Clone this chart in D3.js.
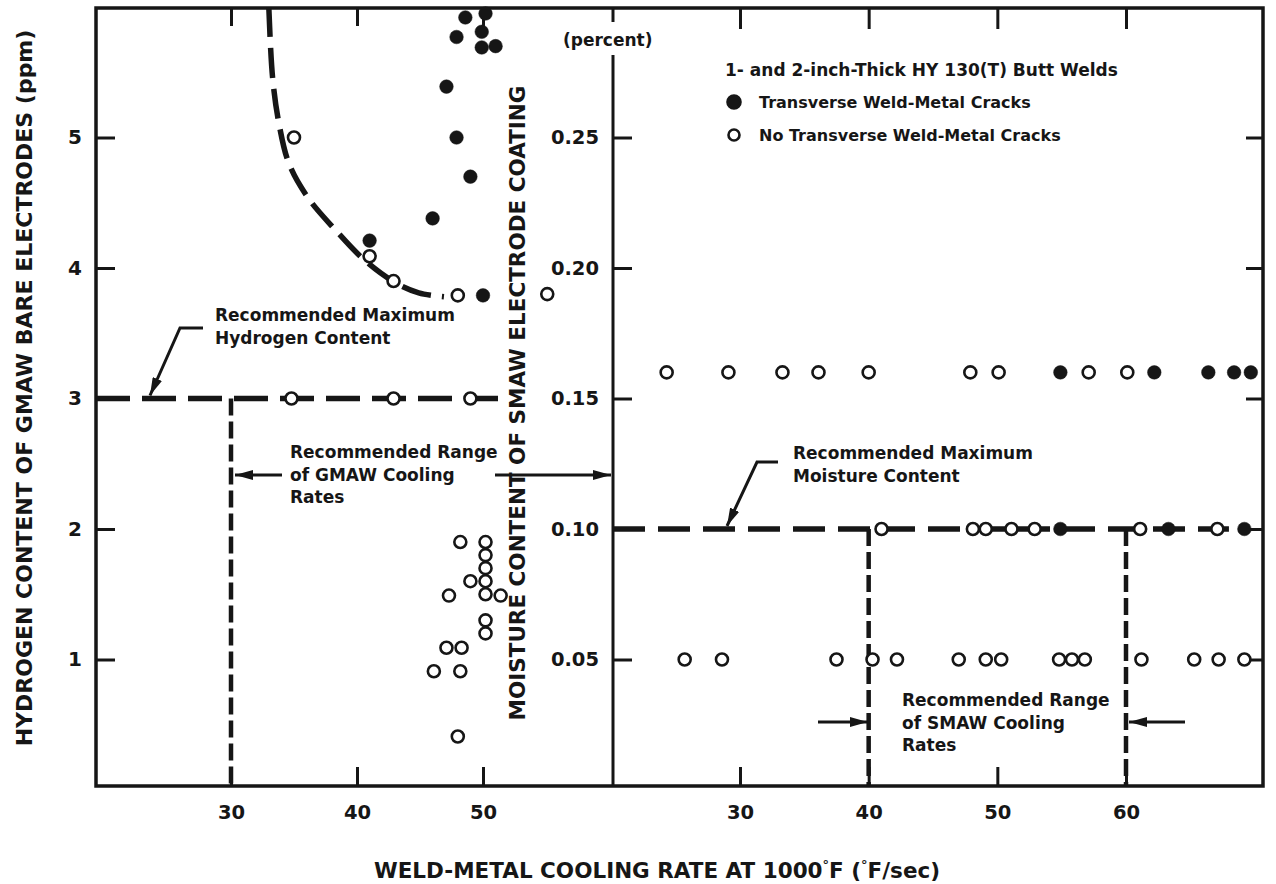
<!DOCTYPE html>
<html>
<head>
<meta charset="utf-8">
<script src="https://cdn.jsdelivr.net/npm/d3@7/dist/d3.min.js"></script>
<style>
  body { margin: 0; background: #fff; }
  svg { display: block; font-family: "DejaVu Sans", sans-serif; font-weight: bold; }
</style>
</head>
<body>
<script>
  // left panel: GMAW bare electrodes, [cooling rate (F/sec), hydrogen (ppm)]
  const gmawCracked = [
    [48.6, 5.92], [50.2, 5.95], [47.9, 5.77], [49.9, 5.81], [49.9, 5.69], [51.0, 5.70],
    [47.1, 5.39], [47.9, 5.0], [49.0, 4.70], [46.0, 4.38], [41.0, 4.21], [50.0, 3.79]
  ]
  const gmawSound = [
    [35.0, 5.0], [41.0, 4.09], [42.9, 3.90], [48.0, 3.79], [55.1, 3.80],
    [34.8, 3.0], [42.9, 3.0], [49.0, 3.0],
    [48.2, 1.9], [50.2, 1.9], [50.2, 1.8], [50.2, 1.7], [49.0, 1.6], [50.2, 1.6],
    [50.2, 1.5], [47.3, 1.49], [51.4, 1.49], [50.2, 1.3], [50.2, 1.2],
    [47.1, 1.09], [48.3, 1.09], [46.1, 0.91], [48.2, 0.91], [48.0, 0.41]
  ]
  // hand drawn boundary between cracked / sound welds
  const crackBoundary = [
    [33.0, 6.0], [33.3, 5.46], [33.8, 5.11], [34.6, 4.80], [36.1, 4.54], [38.3, 4.29],
    [40.6, 4.06], [43.0, 3.89], [44.9, 3.81], [46.9, 3.78]
  ]
  const hydrogenLimit = 3
  const gmawMinRate = 30

  // right panel: SMAW electrodes, [cooling rate, moisture (percent)]
  const smawCracked = [
    [54.9, 0.16], [62.2, 0.16], [66.4, 0.16], [68.4, 0.16], [69.7, 0.16],
    [54.9, 0.10], [63.3, 0.10], [69.2, 0.10]
  ]
  const smawSound = [
    [24.3, 0.16], [29.1, 0.16], [33.3, 0.16], [36.1, 0.16], [40.0, 0.16], [47.9, 0.16],
    [50.1, 0.16], [57.1, 0.16], [60.1, 0.16],
    [41.0, 0.10], [48.1, 0.10], [49.1, 0.10], [51.1, 0.10], [52.9, 0.10], [61.1, 0.10], [67.1, 0.10],
    [25.7, 0.05], [28.6, 0.05], [37.5, 0.05], [40.3, 0.05], [42.2, 0.05], [47.0, 0.05],
    [49.1, 0.05], [50.3, 0.05], [54.8, 0.05], [55.8, 0.05], [56.8, 0.05], [61.2, 0.05],
    [65.3, 0.05], [67.2, 0.05], [69.2, 0.05]
  ]
  const moistureLimit = 0.10
  const smawRange = [40, 60]

  const hydrogenTicks = [1, 2, 3, 4, 5]
  const moistureTicks = [0.05, 0.10, 0.15, 0.20, 0.25]
  const gmawRateTicks = [30, 40, 50]
  const smawRateTicks = [30, 40, 50, 60]

  const ink = '#161616'
  const plotTop = 8, plotBottom = 786, plotLeft = 96, plotMid = 613, plotRight = 1263

  const xL = d3.scaleLinear().domain([30, 50]).range([231, 483])
  const xR = d3.scaleLinear().domain([30, 60]).range([740, 1126])
  const yH = d3.scaleLinear().domain([0, 6]).range([790, 7])
  const yM = d3.scaleLinear().domain([0, 0.3]).range([790, 7])

  const svg = d3.select('body').append('svg')
    .attr('width', 1276).attr('height', 884)

  svg.append('defs').append('marker')
    .attr('id', 'head')
    .attr('markerUnits', 'userSpaceOnUse')
    .attr('viewBox', '0 0 18 10')
    .attr('refX', 18).attr('refY', 5)
    .attr('markerWidth', 18).attr('markerHeight', 10)
    .attr('orient', 'auto')
    .append('path').attr('d', 'M0,0 L18,5 L0,10 Z').attr('fill', ink)

  // frame
  const frame = svg.append('g').attr('stroke', ink).attr('stroke-width', 3.5).attr('fill', 'none')
  frame.append('path')
    .attr('d', `M${plotLeft},${plotTop} H${plotRight} V${plotBottom} H${plotLeft} Z`)
  frame.append('line')
    .attr('x1', plotMid).attr('x2', plotMid).attr('y1', 55).attr('y2', plotBottom)
    .attr('stroke-width', 3)
  frame.append('line')
    .attr('x1', plotMid).attr('x2', plotMid).attr('y1', plotTop).attr('y2', plotTop + 14)
    .attr('stroke-width', 3)

  function styleAxis(g, size) {
    g.select('.domain').remove()
    g.selectAll('.tick line').attr('stroke', ink).attr('stroke-width', 3)
    g.selectAll('.tick text').attr('fill', ink).attr('font-size', size)
      .attr('font-family', '"DejaVu Sans", sans-serif').attr('font-weight', 'bold')
  }

  svg.append('g').attr('transform', `translate(${plotLeft},0)`)
    .call(d3.axisLeft(yH).tickValues(hydrogenTicks).tickFormat(d3.format('d'))
      .tickSizeInner(-19).tickSizeOuter(0).tickPadding(14))
    .call(styleAxis, 20)
  svg.append('g').attr('transform', `translate(${plotMid},0)`)
    .call(d3.axisLeft(yM).tickValues(moistureTicks).tickFormat(d3.format('.2f'))
      .tickSizeInner(-19).tickSizeOuter(0).tickPadding(14))
    .call(styleAxis, 19.5)
  svg.append('g').attr('transform', `translate(${plotRight},0)`)
    .call(d3.axisRight(yM).tickValues(moistureTicks).tickFormat('').tickSizeInner(-17).tickSizeOuter(0))
    .call(styleAxis, 19)

  svg.append('g').attr('transform', `translate(0,${plotBottom})`)
    .call(d3.axisBottom(xL).tickValues(gmawRateTicks).tickSizeInner(-19).tickSizeOuter(0).tickPadding(19))
    .call(styleAxis, 19.5)
  svg.append('g').attr('transform', `translate(0,${plotBottom})`)
    .call(d3.axisBottom(xR).tickValues(smawRateTicks).tickSizeInner(-19).tickSizeOuter(0).tickPadding(19))
    .call(styleAxis, 19.5)
  svg.append('g').attr('transform', `translate(0,${plotTop})`)
    .call(d3.axisTop(xL).tickValues(gmawRateTicks).tickFormat('').tickSizeInner(-18).tickSizeOuter(0))
    .call(styleAxis, 19)
  svg.append('g').attr('transform', `translate(0,${plotTop})`)
    .call(d3.axisTop(xR).tickValues(smawRateTicks).tickFormat('').tickSizeInner(-21).tickSizeOuter(0))
    .call(styleAxis, 19)

  // dashed guide lines
  const lineL = d3.line().x(d => xL(d[0])).y(d => yH(d[1]))
  const lineR = d3.line().x(d => xR(d[0])).y(d => yM(d[1]))
  const guides = svg.append('g').attr('fill', 'none').attr('stroke', ink)

  guides.append('path')
    .attr('d', d3.line().x(d => xL(d[0])).y(d => yH(d[1])).curve(d3.curveCatmullRom)(crackBoundary))
    .attr('stroke-width', 5.5).attr('stroke-dasharray', '30 11')
  guides.append('path')
    .attr('d', lineL([[xL.invert(plotLeft), hydrogenLimit], [51.7, hydrogenLimit]]))
    .attr('stroke-width', 5.5).attr('stroke-dasharray', '34 12')
  guides.append('path')
    .attr('d', lineL([[gmawMinRate, hydrogenLimit], [gmawMinRate, yH.invert(plotBottom)]]))
    .attr('stroke-width', 4.5).attr('stroke-dasharray', '17 6')
  guides.append('path')
    .attr('d', lineR([[xR.invert(plotMid), moistureLimit], [68, moistureLimit]]))
    .attr('stroke-width', 5.5).attr('stroke-dasharray', '32 13')
  smawRange.forEach(r => {
    guides.append('path')
      .attr('d', lineR([[r, moistureLimit], [r, yM.invert(plotBottom)]]))
      .attr('stroke-width', 4.5).attr('stroke-dasharray', '17 6')
  })

  // points
  function drawPoints(data, fx, fy, filled) {
    svg.append('g').selectAll('circle').data(data).join('circle')
      .attr('cx', d => fx(d[0])).attr('cy', d => fy(d[1]))
      .attr('r', filled ? 6.8 : 6)
      .attr('fill', filled ? ink : '#fff')
      .attr('stroke', ink).attr('stroke-width', filled ? 0.5 : 2.6)
  }
  drawPoints(gmawSound, xL, yH, false)
  drawPoints(gmawCracked, xL, yH, true)
  drawPoints(smawSound, xR, yM, false)
  drawPoints(smawCracked, xR, yM, true)

  // annotations
  const notes = svg.append('g').attr('fill', ink).attr('font-size', 17)
  function note(x, y, lines) {
    notes.append('text').attr('x', x).attr('y', y)
      .selectAll('tspan').data(lines).join('tspan')
      .attr('x', x).attr('dy', (d, i) => i === 0 ? '0.36em' : 22.5)
      .text(d => d)
  }
  note(215, 315, ['Recommended Maximum', 'Hydrogen Content'])
  note(290, 452, ['Recommended Range', 'of GMAW Cooling', 'Rates'])
  note(793, 453, ['Recommended Maximum', 'Moisture Content'])
  note(902, 700, ['Recommended Range', 'of SMAW Cooling', 'Rates'])

  const arrows = svg.append('g').attr('fill', 'none').attr('stroke', ink).attr('stroke-width', 3)
  const hTip = [xL.invert(150), hydrogenLimit]
  arrows.append('path').attr('marker-end', 'url(#head)')
    .attr('d', `M${xL(hTip[0]) + 53},328 H${xL(hTip[0]) + 30} L${xL(hTip[0])},${yH(hTip[1]) - 3}`)
  const mTip = [xR.invert(727), moistureLimit]
  arrows.append('path').attr('marker-end', 'url(#head)')
    .attr('d', `M${xR(mTip[0]) + 51},462 H${xR(mTip[0]) + 30} L${xR(mTip[0])},${yM(mTip[1]) - 3}`)
  arrows.append('path').attr('marker-end', 'url(#head)')
    .attr('d', `M282,475 H${xL(gmawMinRate) + 4}`)
  arrows.append('path').attr('marker-end', 'url(#head)')
    .attr('d', `M495,475 H${plotMid - 2}`)
  arrows.append('path').attr('marker-end', 'url(#head)')
    .attr('d', `M818,722 H${xR(smawRange[0]) - 1}`)
  arrows.append('path').attr('marker-end', 'url(#head)')
    .attr('d', `M1185,722 H${xR(smawRange[1]) + 3}`)

  // legend
  const legend = svg.append('g').attr('fill', ink)
  legend.append('text').attr('x', 725).attr('y', 70).attr('dy', '0.36em').attr('font-size', 17)
    .text('1- and 2-inch-Thick HY 130(T) Butt Welds')
  const legendItems = [
    { label: 'Transverse Weld-Metal Cracks', filled: true },
    { label: 'No Transverse Weld-Metal Cracks', filled: false }
  ]
  legendItems.forEach((d, i) => {
    const y = 102 + i * 33
    legend.append('circle').attr('cx', 734).attr('cy', y).attr('r', d.filled ? 6.5 : 5.5)
      .attr('fill', d.filled ? ink : '#fff').attr('stroke', ink).attr('stroke-width', 2.6)
    legend.append('text').attr('x', 759).attr('y', y).attr('dy', '0.36em').attr('font-size', 16)
      .text(d.label)
  })

  // axis titles
  const titles = svg.append('g').attr('fill', ink).attr('font-size', 21.5).attr('text-anchor', 'middle')
  const xTitle = titles.append('text').attr('x', 657).attr('y', 870).attr('dy', '0.36em')
  xTitle.append('tspan').text('WELD-METAL COOLING RATE AT 1000')
  xTitle.append('tspan').attr('font-size', 13).attr('dy', -9).text('°')
  xTitle.append('tspan').attr('dy', 9).text('F (')
  xTitle.append('tspan').attr('font-size', 13).attr('dy', -9).text('°')
  xTitle.append('tspan').attr('dy', 9).text('F/sec)')

  titles.append('text').attr('transform', 'translate(24,388) rotate(-90)').attr('dy', '0.36em')
    .attr('font-size', 22).text('HYDROGEN CONTENT OF GMAW BARE ELECTRODES (ppm)')
  titles.append('text').attr('transform', 'translate(517,403) rotate(-90)').attr('dy', '0.36em')
    .text('MOISTURE CONTENT OF SMAW ELECTRODE COATING')
  titles.append('text').attr('x', 563).attr('y', 40).attr('dy', '0.36em')
    .attr('text-anchor', 'start').attr('font-size', 17).text('(percent)')
</script>
</body>
</html>
